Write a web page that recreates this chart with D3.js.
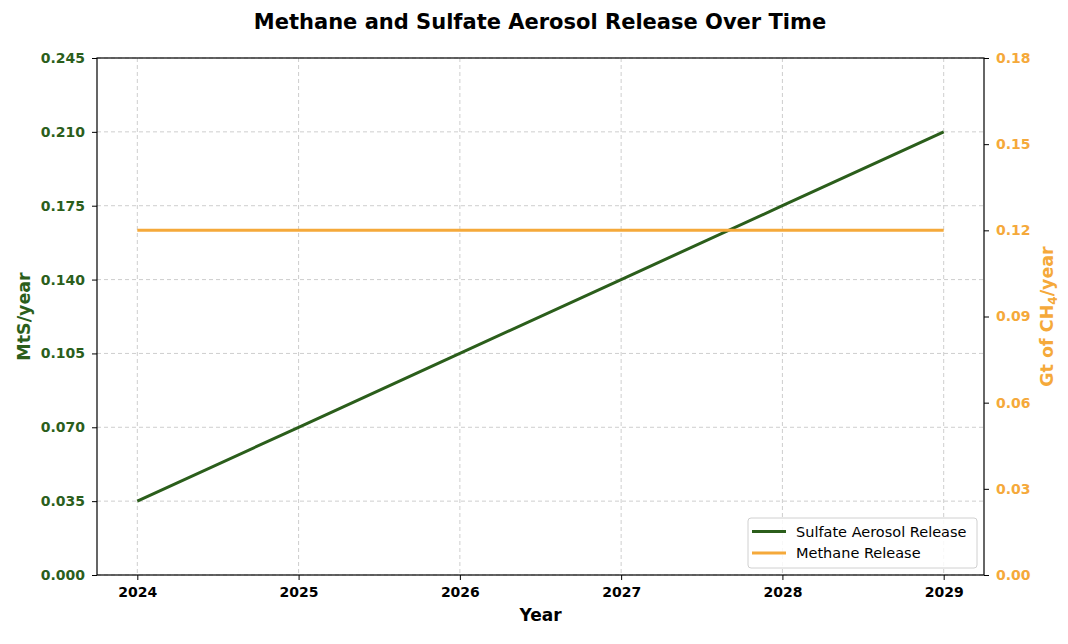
<!DOCTYPE html>
<html><head><meta charset="utf-8">
<script src="https://cdn.jsdelivr.net/npm/d3@7"></script>
<style>body{margin:0;background:#fff;font-family:"DejaVu Sans",sans-serif;}</style>
</head><body><svg id="c" width="1068" height="644"></svg>
<script>
const years = [2024, 2025, 2026, 2027, 2028, 2029];
const sulfate = [0.035, 0.070, 0.105, 0.140, 0.175, 0.210];
const methane = [0.12, 0.12, 0.12, 0.12, 0.12, 0.12];
const leftTicks = [0, 0.035, 0.070, 0.105, 0.140, 0.175, 0.210, 0.245];
const rightTicks = [0, 0.03, 0.06, 0.09, 0.12, 0.15, 0.18];

const green = "#2b5e1b", orange = "#f5a93a";
const m = {l: 97, r: 984, t: 58, b: 575};
const svg = d3.select("#c");
const x = d3.scaleLinear().domain([2023.75, 2029.25]).range([m.l, m.r]);
const yL = d3.scaleLinear().domain([0, 0.245]).range([m.b, m.t]);
const yR = d3.scaleLinear().domain([0, 0.18]).range([m.b, m.t]);

// grid
const g = svg.append("g");
years.forEach(v => g.append("line").attr("x1", x(v)).attr("x2", x(v)).attr("y1", m.t).attr("y2", m.b)
  .attr("stroke", "#c8c8c8").attr("stroke-dasharray", "4,3").attr("stroke-width", 0.9));
leftTicks.forEach(v => g.append("line").attr("x1", m.l).attr("x2", m.r).attr("y1", yL(v)).attr("y2", yL(v))
  .attr("stroke", "#c8c8c8").attr("stroke-dasharray", "4,3").attr("stroke-width", 0.9));

// lines
const line = arr => d3.line().x((d, i) => x(years[i])).y(d => arr(d));
svg.append("path").datum(sulfate).attr("d", line(yL)).attr("fill", "none").attr("stroke", green).attr("stroke-width", 3);
svg.append("path").datum(methane).attr("d", line(yR)).attr("fill", "none").attr("stroke", orange).attr("stroke-width", 3);

// frame
svg.append("rect").attr("x", m.l).attr("y", m.t).attr("width", m.r - m.l).attr("height", m.b - m.t)
  .attr("fill", "none").attr("stroke", "#000").attr("stroke-width", 1.2);

// axes
const fontStyle = sel => sel.selectAll("text").attr("font-family", "DejaVu Sans").attr("font-weight", "bold").attr("font-size", 14);
const ax = svg.append("g").attr("transform", `translate(0,${m.b})`)
  .call(d3.axisBottom(x).tickValues(years).tickFormat(d3.format("d")).tickSize(5).tickPadding(7));
ax.select(".domain").remove(); fontStyle(ax); ax.selectAll("text").attr("fill", "#000");
const al = svg.append("g").attr("transform", `translate(${m.l},0)`)
  .call(d3.axisLeft(yL).tickValues(leftTicks).tickFormat(d3.format(".3f")).tickSize(5).tickPadding(7));
al.select(".domain").remove(); fontStyle(al); al.selectAll("text").attr("fill", green);
const ar = svg.append("g").attr("transform", `translate(${m.r},0)`)
  .call(d3.axisRight(yR).tickValues(rightTicks).tickFormat(d3.format(".2f")).tickSize(5).tickPadding(7));
ar.select(".domain").remove(); fontStyle(ar); ar.selectAll("text").attr("fill", orange);

// title & labels
svg.append("text").attr("x", 540).attr("y", 29).attr("text-anchor", "middle").attr("font-weight", "bold")
  .attr("font-size", 21).text("Methane and Sulfate Aerosol Release Over Time");
svg.append("text").attr("x", x(2026.5)).attr("y", 621).attr("text-anchor", "middle").attr("font-weight", "bold")
  .attr("font-size", 17).text("Year");
svg.append("text").attr("transform", `translate(30,${(m.t + m.b) / 2}) rotate(-90)`).attr("text-anchor", "middle")
  .attr("font-weight", "bold").attr("font-size", 17.5).attr("fill", green).text("MtS/year");
const rl = svg.append("text").attr("transform", `translate(1053,${(m.t + m.b) / 2}) rotate(-90)`).attr("text-anchor", "middle")
  .attr("font-weight", "bold").attr("font-size", 17.5).attr("fill", orange);
rl.append("tspan").text("Gt of CH");
rl.append("tspan").attr("font-size", 12).attr("dy", 4).text("4");
rl.append("tspan").attr("dy", -4).text("/year");

// legend
const lg = svg.append("g").attr("transform", "translate(748,518)");
lg.append("rect").attr("width", 229).attr("height", 50).attr("rx", 3).attr("fill", "#fff").attr("fill-opacity", 0.85)
  .attr("stroke", "#d0d0d0");
[["Sulfate Aerosol Release", green], ["Methane Release", orange]].forEach((d, i) => {
  const yy = 13.5 + i * 21.5;
  lg.append("line").attr("x1", 4).attr("x2", 38).attr("y1", yy).attr("y2", yy).attr("stroke", d[1]).attr("stroke-width", 3);
  lg.append("text").attr("x", 48).attr("y", yy + 5).attr("font-size", 14.5).text(d[0]);
});
</script></body></html>
